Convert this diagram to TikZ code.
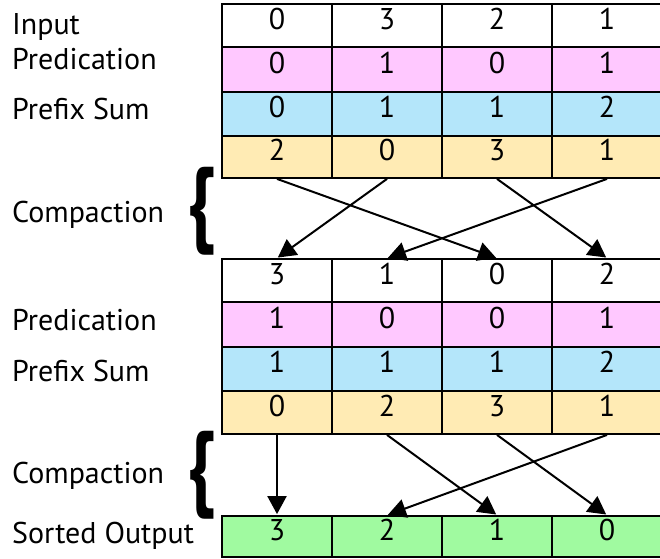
\documentclass[tikz,border=0pt]{standalone}
\usepackage{fontspec}
\setmainfont{PT Sans}
\usepackage{graphicx}
\usetikzlibrary{arrows.meta}
\definecolor{pinkc}{RGB}{255,200,255}
\definecolor{bluec}{RGB}{180,230,250}
\definecolor{yelc}{RGB}{255,235,180}
\definecolor{greenc}{RGB}{160,250,160}
\tikzset{
  cell/.style={draw=black, line width=1.8pt, minimum width=110pt, inner sep=0pt, text height=0.7em, text depth=0pt},
  lbl/.style={anchor=base west, inner sep=0pt},
  arr/.style={line width=2pt, -{Triangle[length=18pt,width=19pt]}, shorten >=1pt},
  bracenode/.style={inner sep=0pt}
}
\begin{document}
\begin{tikzpicture}[x=1pt,y=-1pt,font=\fontsize{30}{32}\selectfont]
\useasboundingbox (0,0) rectangle (660,558);
\foreach \r/\yc/\h/\f/\vals in {
  a/25.5/43/white/{0,3,2,1},
  b/69.5/45/pinkc/{0,1,0,1},
  c/114/44/bluec/{0,1,1,2},
  d/157/42/yelc/{2,0,3,1},
  e/280.5/43/white/{3,1,0,2},
  f/324.5/45/pinkc/{1,0,0,1},
  g/369/44/bluec/{1,1,1,2},
  h/412.5/43/yelc/{0,2,3,1},
  o/536.5/41/greenc/{3,2,1,0}}{
  \foreach \v [count=\i from 0] in \vals {
    \node[cell, fill=\f, minimum height=\h pt] (\r\i) at (277+110*\i,\yc) {\v};
  }
}
% labels
\node[lbl] (l1) at (12,34) {Input};
\node[lbl] (l2) at (12,69) {Predication};
\node[lbl] (l3) at (12,119) {Prefix Sum};
\node[lbl] (l4) at (12,222) {Compaction};
\node[lbl] (l5) at (12,330) {Predication};
\node[lbl] (l6) at (12,381) {Prefix Sum};
\node[lbl] (l7) at (12,483) {Compaction};
\node[lbl] (l8) at (12,543) {Sorted Output};
% braces
\node[bracenode] (br1) at (201,211.5) {\resizebox*{28pt}{88pt}{\bfseries\{}};
\node[bracenode] (br2) at (201,475) {\resizebox*{28pt}{88pt}{\bfseries\{}};
% compaction arrows (top)
\draw[arr] (d0.south) -- (e2.north);
\draw[arr] (d1.south) -- (e0.north);
\draw[arr] (d2.south) -- (e3.north);
\draw[arr] (d3.south) -- (e1.north);
% compaction arrows (bottom)
\draw[arr] (h0.south) -- (o0.north);
\draw[arr] (h1.south) -- (o2.north);
\draw[arr] (h2.south) -- (o3.north);
\draw[arr] (h3.south) -- (o1.north);
\end{tikzpicture}
\end{document}
